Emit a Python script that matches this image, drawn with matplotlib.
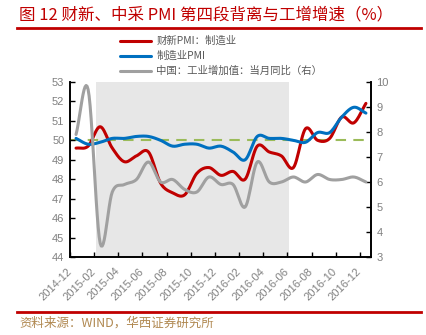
import numpy as np
import matplotlib
matplotlib.use('Agg')
import matplotlib.pyplot as plt

plt.rcParams['font.family'] = ['Liberation Sans', 'Noto Sans CJK SC', 'DejaVu Sans']

months = ['2014-12', '2015-01', '2015-02', '2015-03', '2015-04', '2015-05', '2015-06',
          '2015-07', '2015-08', '2015-09', '2015-10', '2015-11', '2015-12',
          '2016-01', '2016-02', '2016-03', '2016-04', '2016-05', '2016-06',
          '2016-07', '2016-08', '2016-09', '2016-10', '2016-11', '2016-12']
tick_labels = months[::2]

caixin_pmi = [49.6, 49.7, 50.7, 49.6, 48.9, 49.2, 49.4, 47.8, 47.3, 47.2, 48.3, 48.6, 48.2,
              48.4, 48.0, 49.7, 49.4, 49.2, 48.6, 50.6, 50.0, 50.1, 51.2, 50.9, 51.9]
official_pmi = [50.1, 49.8, 49.9, 50.1, 50.1, 50.2, 50.2, 50.0, 49.7, 49.8, 49.8, 49.6, 49.7,
                49.4, 49.0, 50.2, 50.1, 50.1, 50.0, 49.9, 50.4, 50.4, 51.2, 51.7, 51.4]
industry_yoy = [7.9, 9.7, 3.55, 5.6, 5.9, 6.1, 6.8, 6.0, 6.1, 5.7, 5.6, 6.2, 5.9,
                5.9, 5.0, 6.8, 6.0, 6.0, 6.2, 6.0, 6.3, 6.1, 6.1, 6.2, 6.0]

names = ['财新PMI：制造业', '制造业PMI', '中国：工业增加值：当月同比（右）']


def smooth(y, n=12):
    # catmull-rom curve through the monthly points, like excel's smoothed line
    y = np.asarray(y, float)
    p = np.concatenate([[2 * y[0] - y[1]], y, [2 * y[-1] - y[-2]]])
    xs, ys = [], []
    for i in range(len(y) - 1):
        p0, p1, p2, p3 = p[i], p[i + 1], p[i + 2], p[i + 3]
        t = np.linspace(0, 1, n, endpoint=False)
        ys.append(0.5 * (2 * p1 + (-p0 + p2) * t + (2 * p0 - 5 * p1 + 4 * p2 - p3) * t ** 2
                         + (-p0 + 3 * p1 - 3 * p2 + p3) * t ** 3))
        xs.append(i + t)
    xs.append([len(y) - 1])
    ys.append([y[-1]])
    return np.concatenate(xs), np.concatenate(ys)


fig = plt.figure(figsize=(4.26, 3.35), dpi=100)
ax = fig.add_axes([70 / 426, 1 - 257 / 335, 301 / 426, 175 / 335])
ax2 = ax.twinx()

ax.axvspan(1.62, 17.6, color='#E7E7E7', lw=0, zorder=0)
ax.axhline(50, color='#9BBB59', lw=1.5, dashes=(5, 3.5), zorder=1)

x, y = smooth(caixin_pmi)
l1, = ax.plot(x, y, color='#C00000', lw=2.2, solid_capstyle='round', zorder=3)
x, y = smooth(official_pmi)
l2, = ax.plot(x, y, color='#0070C0', lw=2.2, solid_capstyle='round', zorder=3)
x, y = smooth(industry_yoy)
l3, = ax2.plot(x, y, color='#A0A0A0', lw=2.2, solid_capstyle='round', zorder=3)

ax.set_xlim(-0.5, 24.42)
ax.set_ylim(44, 53)
ax.set_yticks(range(44, 54))
ax2.set_ylim(3, 10)
ax2.set_yticks(range(3, 11))
ax.set_xticks(np.arange(len(tick_labels)) * 2 - 0.5)
ax.set_xticklabels(tick_labels, rotation=45, ha='right', va='center', rotation_mode='anchor')

for a in (ax, ax2):
    a.spines['top'].set_visible(False)
    a.tick_params(direction='in', length=3.5, width=1, colors='black',
                  labelcolor='#808080', labelsize=8, pad=4)
    for s in a.spines.values():
        s.set_linewidth(1.2)
ax.tick_params(axis='x', pad=9)
ax.patch.set_visible(False)
ax.set_zorder(1)
ax2.set_zorder(2)
ax2.patch.set_visible(False)

leg = fig.legend([l1, l2, l3], names, loc='upper left', bbox_to_anchor=(120 / 426, 1 - 36 / 335),
                 frameon=False, handlelength=3.0, handletextpad=0.5,
                 labelspacing=0.45, borderpad=0, borderaxespad=0,
                 prop={'family': ['Noto Sans CJK SC'], 'size': 7.5})
for t in leg.get_texts():
    t.set_color('#595959')

fig.text(19 / 426, 1 - 15 / 335, '图 12 财新、中采 PMI 第四段背离与工增增速（%）',
         color='#C00000', fontsize=11.9, ha='left', va='center',
         family=['Noto Sans CJK SC'])
fig.add_artist(plt.Line2D([17 / 426, 421 / 426], [1 - 28 / 335] * 2, color='#C00000', lw=2))
fig.add_artist(plt.Line2D([17 / 426, 421 / 426], [1 - 311.5 / 335] * 2, color='#C00000', lw=2))
fig.text(19 / 426, 1 - 323 / 335, '资料来源：WIND，华西证券研究所', color='#B08850',
         fontsize=9, ha='left', va='center', family=['Noto Sans CJK SC'])

fig.savefig('out.png', dpi=100)
